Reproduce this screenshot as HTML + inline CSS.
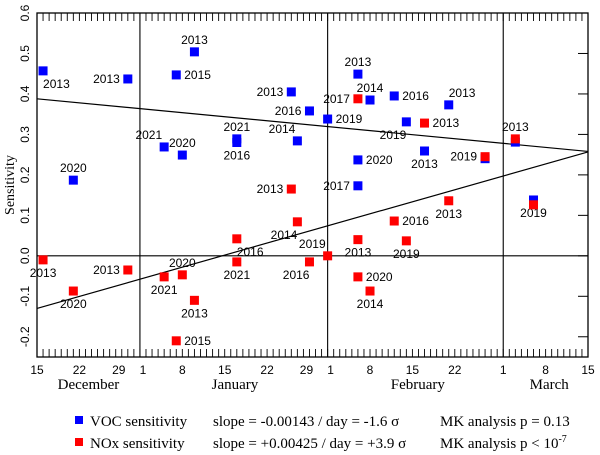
<!DOCTYPE html>
<html><head><meta charset="utf-8"><style>
body{margin:0;background:#fff;}
svg{display:block;}
.lbl{font-family:"Liberation Sans",sans-serif;font-size:12px;fill:#000;}
.ser{font-family:"Liberation Serif",serif;}
</style></head><body>
<svg id="chart" width="600" height="455" viewBox="0 0 600 455" xmlns="http://www.w3.org/2000/svg">
<g id="axes"></g>
<g id="marks"></g>
<g>
  <rect x="75" y="416" width="8" height="8" fill="#0000ff"/>
  <text class="ser" x="90" y="426" font-size="15">VOC sensitivity</text>
  <text class="ser" x="213" y="426" font-size="15">slope = -0.00143 / day = -1.6 σ</text>
  <text class="ser" x="440" y="426" font-size="15">MK analysis p = 0.13</text>
  <rect x="75" y="438" width="8" height="8" fill="#ff0000"/>
  <text class="ser" x="90" y="448" font-size="15">NOx sensitivity</text>
  <text class="ser" x="213" y="448" font-size="15">slope = +0.00425 / day = +3.9 σ</text>
  <text class="ser" x="440" y="448" font-size="15">MK analysis p &lt; 10<tspan font-size="10" dy="-6">-7</tspan></text>
</g>
</svg>
<script>
const vocDays=[1,15,6,26,23,21,24,33,33,42,43,45,48,53,55,59,68,61,64,53,53,74,79,82];
const vocVals=[0.457,0.437,0.187,0.504,0.447,0.269,0.249,0.289,0.280,0.405,0.284,0.358,0.338,0.449,0.385,0.395,0.373,0.331,0.259,0.237,0.173,0.240,0.281,0.138];
const vocYears=["2013","2013","2020","2013","2015","2021","2020","2021","2016","2013","2014","2016","2019","2013","2014","2016","2013","2019","2013","2020","2017","","","2019"];
const vocPos=["br","l","a","a","r","al","a","a","b","l","al","l","r","a","a","r","ar","bl","b","r","l","n","n","b"];
const noxDays=[1,6,15,21,24,26,23,33,33,42,43,45,48,53,53,55,59,61,53,64,68,74,79,82];
const noxVals=[-0.010,-0.087,-0.035,-0.052,-0.047,-0.110,-0.210,0.042,-0.015,0.165,0.084,-0.015,0.000,0.040,-0.052,-0.087,0.086,0.037,0.388,0.328,0.136,0.245,0.289,0.126];
const noxYears=["2013","2020","2013","2021","2020","2013","2015","2016","2021","2013","2014","2016","2019","2013","2020","2014","2016","2019","2017","2013","2013","2019","2013","2019"];
const noxPos=["b","b","l","b","a","b","r","br","b","l","bl","bl","al","b","r","b","r","b","l","r","b","l","a","n"];
const trendIntercepts=[0.388,-0.130];
const trendSlopes=[-0.00143,0.00425];
const yTicks=[-0.2,-0.1,0.0,0.1,0.2,0.3,0.4,0.5,0.6];
const yTickLabels=["-0.2","-0.1","0.0","0.1","0.2","0.3","0.4","0.5","0.6"];
const xTickDays=[0,7,14,17,24,31,38,45,48,55,62,69,77,84,91];
const xTickLabels=["15","22","29","1","8","15","22","29","1","8","15","22","1","8","15"];
const monthDays=[17,48,77];
const monthNames=["December","January","February","March"];
const monthLabelDays=[8.5,32.7,62.9,84.6];

const L=37,R=588,T=13,B=357,D0=0,D1=91,V0=-0.25,V1=0.6;
const X=d=>L+(d-D0)/(D1-D0)*(R-L);
const Y=v=>B-(v-V0)/(V1-V0)*(B-T);
const NS="http://www.w3.org/2000/svg";
function mk(tag,attrs,parent){const e=document.createElementNS(NS,tag);for(const k in attrs)e.setAttribute(k,attrs[k]);parent.appendChild(e);return e;}
const ax=document.getElementById('axes'), mg=document.getElementById('marks');

let f=mk('rect',{x:L,y:T,width:R-L,height:B-T,fill:'none',stroke:'#000','stroke-width':1.3},ax);


for(let d=1;d<D1;d++){
  let t1=mk('line',{x1:X(d),x2:X(d),y1:B,y2:B-8,stroke:'#000','stroke-width':0.9},ax);
  
  
  let t2=mk('line',{x1:X(d),x2:X(d),y1:T,y2:T+8,stroke:'#000','stroke-width':0.9},ax);
  
  
}
monthDays.forEach(d=>{
  let l=mk('line',{x1:X(d),x2:X(d),y1:T,y2:B,stroke:'#000','stroke-width':1.1},ax);
  
  
});
let z=mk('line',{x1:L,x2:R,y1:Y(0),y2:Y(0),stroke:'#000','stroke-width':1.1},ax);


yTicks.forEach((v,i)=>{
  let t=mk('line',{x1:R,x2:R-10,y1:Y(v),y2:Y(v),stroke:'#000','stroke-width':1},ax);
  
  
  let tx=mk('text',{x:0,y:0,transform:`translate(${L-8},${Y(v)}) rotate(-90)`,'text-anchor':'middle',class:'lbl'},ax);
  tx.textContent=yTickLabels[i];
  
  
});
let yt=mk('text',{x:0,y:0,transform:`translate(14,${(T+B)/2}) rotate(-90)`,'text-anchor':'middle',class:'ser','font-size':14},ax);
yt.textContent='Sensitivity';


xTickDays.forEach((d,i)=>{
  let tx=mk('text',{x:X(d)+(i==2||i==7?-3:(i==3||i==8?3:0)),y:374,'text-anchor':'middle',class:'lbl'},ax);
  tx.textContent=xTickLabels[i];
  
  
});
monthNames.forEach((m,i)=>{
  let tx=mk('text',{x:X(monthLabelDays[i]),y:389,'text-anchor':'middle',class:'ser','font-size':15},ax);
  tx.textContent=m;
  
  
});
trendIntercepts.forEach((a,i)=>{
  let l=mk('line',{x1:X(D0),y1:Y(a+trendSlopes[i]*D0),x2:X(D1),y2:Y(a+trendSlopes[i]*D1),stroke:'#000','stroke-width':1.2},mg);
  
  
});
function lab(x,y,t,p){
  if(!t||p=='n')return;
  let dx=0,dy=0,a='middle';
  if(p=='a'){dy=-8;}else if(p=='b'){dy=17;}else if(p=='l'){dx=-8;dy=4;a='end';}else if(p=='r'){dx=8;dy=4;a='start';}
  else if(p=='br'){dx=0;dy=17;a='start';}else if(p=='bl'){dx=0;dy=17;a='end';}else if(p=='al'){dx=-2;dy=-8;a='end';}else if(p=='ar'){dx=0;dy=-8;a='start';}
  let tx=mk('text',{x:x+dx,y:y+dy,'text-anchor':a,class:'lbl'},mg);
  tx.textContent=t;
  
  
}
function pts(days,vals,years,pos,col,name){
  days.forEach((d,i)=>{
    let r=mk('rect',{x:X(d)-4.5,y:Y(vals[i])-4.5,width:9,height:9,fill:col},mg);
    
    
    lab(X(d),Y(vals[i]),years[i],pos[i]);
  });
}
pts(vocDays,vocVals,vocYears,vocPos,'#0000ff','voc-point');
pts(noxDays,noxVals,noxYears,noxPos,'#ff0000','nox-point');
</script>
</body></html>
